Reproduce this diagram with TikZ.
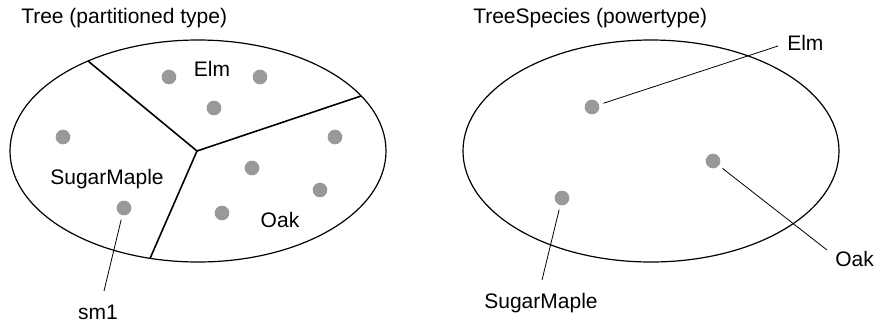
\documentclass[tikz,border=0pt]{standalone}
\usepackage{fontspec}
\setmainfont{Liberation Sans}
\usepackage{tikz}
\usepackage{xcolor}
\definecolor{dotgray}{RGB}{153,153,153}

\begin{document}
\begin{tikzpicture}[x=0.75pt, y=-0.75pt,
    every node/.style={font=\fontsize{15.75}{19}\selectfont, inner sep=0pt},
    member/.style={circle, fill=dotgray, minimum size=11pt, inner sep=0pt, outer sep=3.5pt},
    leader/.style={line width=0.6pt}]
    \useasboundingbox (0,0) rectangle (878,322);

    % partitioned type
    \node[anchor=west] (treetitle) at (21,18) {Tree (partitioned type)};
    \draw[line width=0.9pt] (198,151) ellipse [x radius=188, y radius=111];
    \coordinate (hub) at (197,151);
    \draw[line width=1.2pt] (hub) -- (88,61);
    \draw[line width=1.2pt] (hub) -- (361,96);
    \draw[line width=1.2pt] (hub) -- (150,258.5);

    \node (elmname) at (212,69) {Elm};
    \node[member] (elm1) at (169,77) {};
    \node[member] (elm2) at (260,77) {};
    \node[member] (elm3) at (214,108) {};

    \node (oakname) at (280,220) {Oak};
    \node[member] (oak1) at (335,137) {};
    \node[member] (oak2) at (252,168) {};
    \node[member] (oak3) at (320,190) {};
    \node[member] (oak4) at (222,213) {};

    \node (maplename) at (107,179) {SugarMaple};
    \node[member] (maple1) at (63,137) {};
    \node[member] (sm1dot) at (124,208) {};
    \coordinate (sm1tip) at (104,291);
    \node (sm1name) at (98,312) {sm1};
    \draw[leader] (sm1dot) -- (sm1tip);

    % powertype
    \node[anchor=west] (speciestitle) at (473,18) {TreeSpecies (powertype)};
    \draw[line width=0.9pt] (651,151) ellipse [x radius=188, y radius=111];

    \node[member] (elmsp) at (592,107) {};
    \node[member] (oaksp) at (713,161) {};
    \node[member] (maplesp) at (562,198) {};

    \coordinate (elmtip) at (778,46);
    \coordinate (oaktip) at (827,250);
    \coordinate (mapletip) at (542,280);
    \node[anchor=west] (elmlabel) at (787,43) {Elm};
    \node[anchor=west] (oaklabel) at (835,259) {Oak};
    \node (maplelabel) at (541,303) {SugarMaple};

    \draw[leader] (elmsp) -- (elmtip);
    \draw[leader] (oaksp) -- (oaktip);
    \draw[leader] (maplesp) -- (mapletip);
\end{tikzpicture}
\end{document}
